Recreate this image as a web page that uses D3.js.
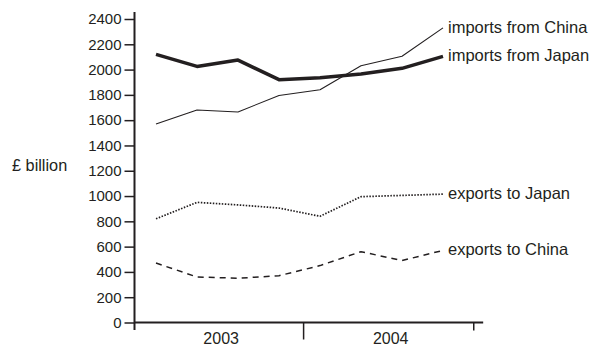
<!DOCTYPE html>
<html><head><meta charset="utf-8">
<script src="https://cdn.jsdelivr.net/npm/d3@7"></script>
<style>body{margin:0;background:#fff}svg{display:block}text{font-family:"Liberation Sans",Arial,sans-serif;fill:#231f20}</style>
</head><body><svg id="c" width="592" height="358"></svg>
<script>
const quarters = ["2003 Q1","2003 Q2","2003 Q3","2003 Q4","2004 Q1","2004 Q2","2004 Q3","2004 Q4"];
const years = ["2003","2004"];
const yTicks = [0,200,400,600,800,1000,1200,1400,1600,1800,2000,2200,2400];
const importsChina = [1570,1680,1665,1795,1840,2030,2105,2330];
const importsJapan = [2120,2025,2075,1920,1935,1965,2010,2105];
const exportsJapan = [820,950,930,905,840,995,1005,1015];
const exportsChina = [470,360,350,370,450,560,490,570];
const seriesNames = ["imports from China","imports from Japan","exports to Japan","exports to China"];

const svg = d3.select("#c");
const col = "#231f20";
const y = d3.scaleLinear().domain([0,2400]).range([322.5,19]);
const x = d3.scaleLinear().domain([0,quarters.length-1]).range([156,443]);

// y axis
const yAxis = d3.axisLeft(y).tickValues(yTicks).tickSize(10).tickPadding(3).tickFormat(d3.format("d"));
const gy = svg.append("g").attr("transform","translate(134.5,0)").call(yAxis);
gy.select(".domain").remove();
gy.selectAll(".tick line").attr("stroke",col).attr("stroke-width",1.5);
gy.selectAll("text").style("font-size","15px").attr("fill",col).attr("font-family","Liberation Sans, Arial, sans-serif");
svg.append("line").attr("x1",134.5).attr("x2",134.5).attr("y1",12).attr("y2",330).attr("stroke",col).attr("stroke-width",2);

// x axis
const bounds = [-0.52, 3.6, 7.75];
svg.append("line").attr("x1",134.5).attr("x2",x(7.98)).attr("y1",y(0)).attr("y2",y(0)).attr("stroke",col).attr("stroke-width",1.8);
svg.append("line").attr("x1",x(bounds[1])).attr("x2",x(bounds[1])).attr("y1",y(0)).attr("y2",y(0)+17).attr("stroke",col).attr("stroke-width",1.5);
svg.append("line").attr("x1",x(bounds[2])).attr("x2",x(bounds[2])).attr("y1",y(0)).attr("y2",y(0)+8).attr("stroke",col).attr("stroke-width",1.5);
years.forEach((yr,i)=>{
  svg.append("text").attr("x",(x(bounds[i])+x(bounds[i+1]))/2+2).attr("y",344).attr("text-anchor","middle").style("font-size","16px").text(yr);
});

svg.append("text").attr("x",12).attr("y",171).style("font-size","16.3px").text("£ billion");

const line = d3.line().x((d,i)=>x(i)).y(d=>y(d));
const series = [
  {v:importsChina, w:1.1, dash:null},
  {v:importsJapan, w:3.5, dash:null},
  {v:exportsJapan, w:1.7, dash:"1.5,1.5"},
  {v:exportsChina, w:1.5, dash:"6,5"}
];
series.forEach((s,k)=>{
  svg.append("path").attr("d",line(s.v)).attr("fill","none").attr("stroke",col)
    .attr("stroke-width",s.w).attr("stroke-dasharray",s.dash).attr("stroke-linejoin","round");
  svg.append("text").attr("x",x(7)+5).attr("y",y(s.v[7])+5).style("font-size","16.5px").text(seriesNames[k]);
});
</script></body></html>
